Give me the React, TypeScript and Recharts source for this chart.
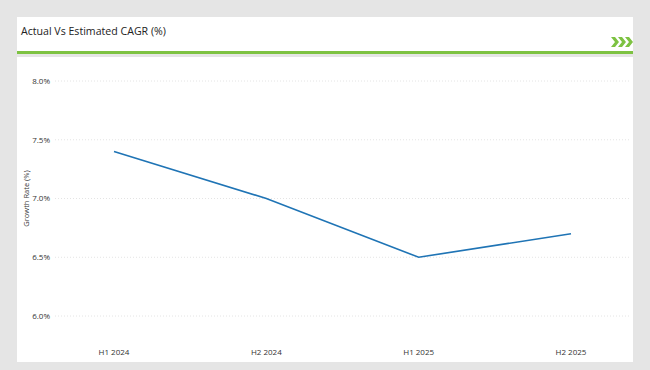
import React from "react";
import { LineChart, Line, XAxis, YAxis, CartesianGrid, Label } from "recharts";

const categories = ["H1 2024", "H2 2024", "H1 2025", "H2 2025"];
const growthRates = [7.4, 7.0, 6.5, 6.7];
const yTicks = [6.0, 6.5, 7.0, 7.5, 8.0];

const data = categories.map((c, i) => ({ period: c, value: growthRates[i] }));

const FONT = "'Open Sans', 'Noto Sans', sans-serif";

export default function App() {
  return (
    <div
      style={{
        position: "fixed",
        left: 0,
        top: 0,
        width: 650,
        height: 370,
        background: "#e5e5e5",
        fontFamily: FONT,
        overflow: "hidden",
      }}
    >
      <div
        style={{
          position: "absolute",
          left: 17,
          top: 17,
          width: 616,
          height: 34,
          background: "#ffffff",
          borderBottom: "3px solid #7dc242",
        }}
      >
        <div
          style={{
            position: "absolute",
            left: 4,
            top: 7,
            fontSize: 10.6,
            color: "#222",
            whiteSpace: "nowrap",
          }}
        >
          Actual Vs Estimated CAGR (%)
        </div>
        <svg
          width={22}
          height={10}
          style={{ position: "absolute", left: 594, top: 20 }}
        >
          {[0, 7, 14].map((dx) => (
            <polygon
              key={dx}
              points={`${dx},0 ${dx + 4},0 ${dx + 8},5 ${dx + 4},10 ${dx},10 ${dx + 4},5`}
              fill="#7dc242"
            />
          ))}
        </svg>
      </div>
      <div
        style={{
          position: "absolute",
          left: 17,
          top: 57,
          width: 616,
          height: 305,
          background: "#ffffff",
        }}
      >
        <LineChart
          width={616}
          height={305}
          data={data}
          margin={{ top: 24, right: 4, bottom: 0, left: 0 }}
        >
          <CartesianGrid
            vertical={false}
            stroke="#e4e4e4"
            strokeDasharray="1 2"
          />
          <XAxis
            dataKey="period"
            axisLine={false}
            tickLine={false}
            tickSize={0}
            tickMargin={33}
            height={46}
            padding={{ left: 59, right: 58 }}
            tick={{ fontSize: 8, fill: "#333", fontFamily: FONT }}
          />
          <YAxis
            domain={[6, 8]}
            ticks={yTicks}
            width={38}
            axisLine={false}
            tickLine={false}
            tickSize={0}
            tickMargin={5}
            tickFormatter={(v: number) => `${v.toFixed(1)}%`}
            tick={{ fontSize: 8, fill: "#333", fontFamily: FONT }}
          >
            <Label
              value="Growth Rate (%)"
              angle={-90}
              position="insideLeft"
              offset={9}
              style={{ fontSize: 7.5, fill: "#333", fontFamily: FONT, textAnchor: "middle" }}
            />
          </YAxis>
          <Line
            type="linear"
            dataKey="value"
            stroke="#1f74b5"
            strokeWidth={1.6}
            dot={false}
            isAnimationActive={false}
          />
        </LineChart>
      </div>
    </div>
  );
}
